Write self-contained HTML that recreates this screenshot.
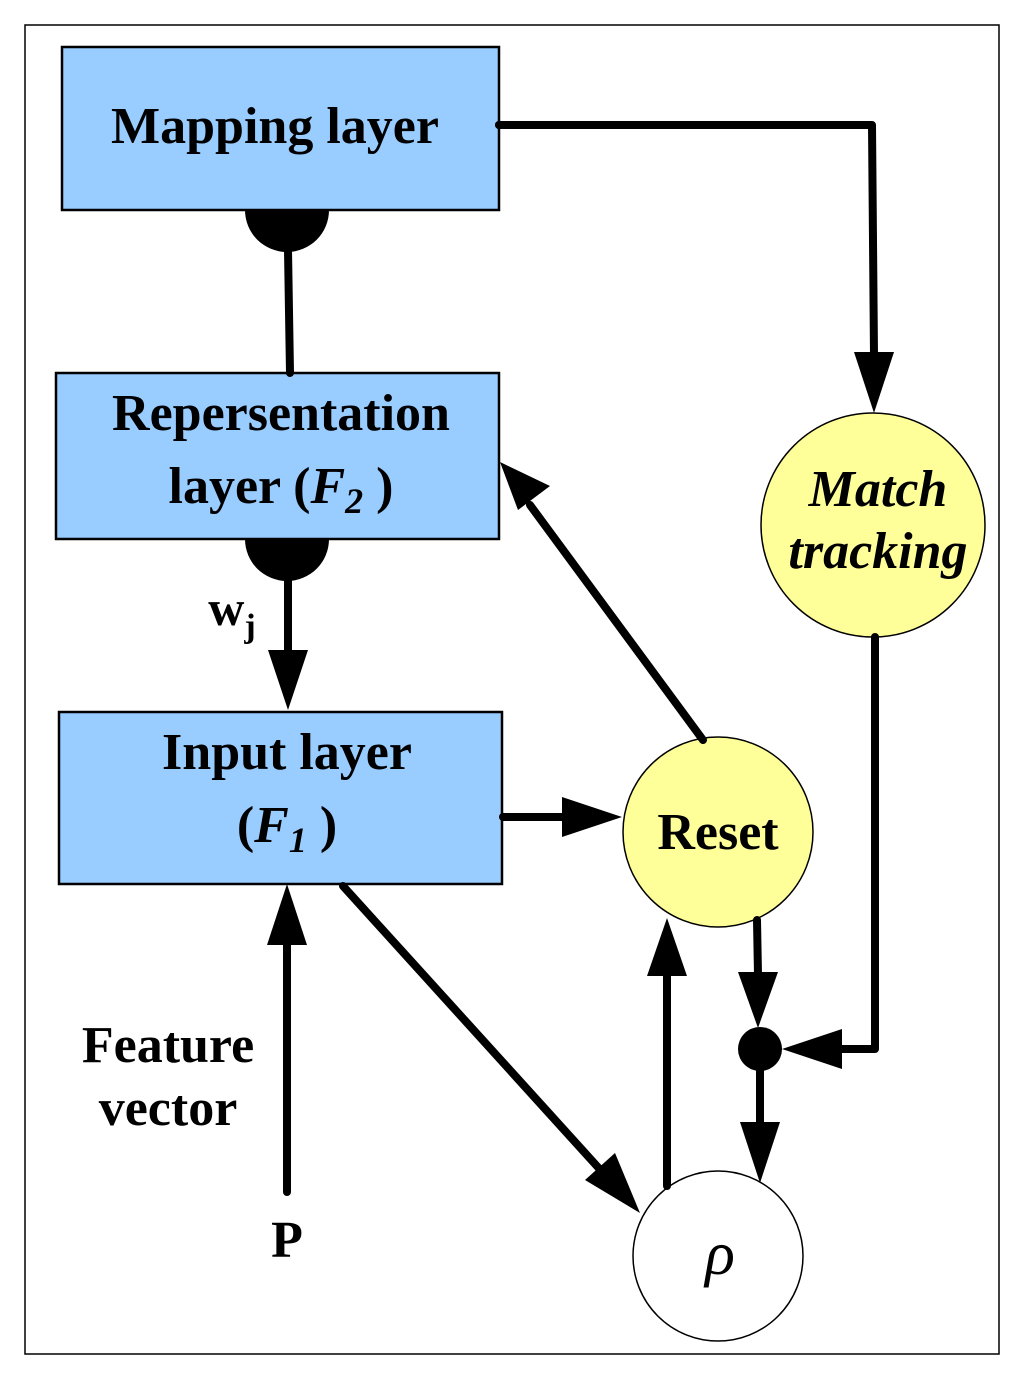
<!DOCTYPE html>
<html><head><style>body{margin:0;background:#fff}svg{display:block}</style></head><body>
<svg width="1024" height="1379" viewBox="0 0 1024 1379" xmlns="http://www.w3.org/2000/svg" font-family="Liberation Serif, serif" font-weight="bold">
<rect x="25" y="25" width="974" height="1329" fill="#fff" stroke="#000" stroke-width="1.5"/>
<path d="M245 210 A42 42 0 0 0 329 210 Z" fill="#000"/>
<path d="M245 539 A42 42 0 0 0 329 539 Z" fill="#000"/>
<rect x="62" y="47" width="437" height="163" fill="#99ccff" stroke="#000" stroke-width="2.5"/>
<rect x="56" y="373" width="443" height="166" fill="#99ccff" stroke="#000" stroke-width="2.5"/>
<rect x="59" y="712" width="443" height="172" fill="#99ccff" stroke="#000" stroke-width="2.5"/>
<text x="275" y="143" font-size="52" text-anchor="middle">Mapping layer</text>
<text x="281" y="430" font-size="52" text-anchor="middle">Repersentation</text>
<text x="281" y="503" font-size="52" text-anchor="middle">layer (<tspan font-style="italic">F</tspan><tspan font-style="italic" font-size="36" dy="10">2</tspan><tspan dy="-10"> )</tspan></text>
<text x="287" y="769" font-size="52" text-anchor="middle">Input layer</text>
<text x="287" y="842" font-size="52" text-anchor="middle">(<tspan font-style="italic">F</tspan><tspan font-style="italic" font-size="36" dy="10">1</tspan><tspan dy="-10"> )</tspan></text>
<circle cx="873" cy="525" r="112" fill="#ffff99" stroke="#000" stroke-width="1.5"/>
<text x="878" y="506" font-size="52" font-style="italic" text-anchor="middle">Match</text>
<text x="878" y="568" font-size="52" font-style="italic" text-anchor="middle">tracking</text>
<circle cx="718" cy="832" r="95" fill="#ffff99" stroke="#000" stroke-width="1.5"/>
<text x="718" y="849" font-size="52" text-anchor="middle">Reset</text>
<circle cx="718" cy="1256" r="85" fill="#fff" stroke="#000" stroke-width="1.5"/>
<text x="720" y="1274" font-size="62" font-weight="normal" font-style="italic" text-anchor="middle">ρ</text>
<g stroke="#000" stroke-width="8" fill="none" stroke-linecap="round" stroke-linejoin="round">
<line x1="288" y1="250" x2="290" y2="373"/>
<line x1="288" y1="580" x2="288" y2="655"/>
<polyline points="499,125 872,125 874,355"/>
<line x1="503" y1="817" x2="565" y2="817"/>
<line x1="703" y1="740" x2="530" y2="505"/>
<polyline points="875,637 875,1049 840,1049"/>
<line x1="757" y1="920" x2="758" y2="975"/>
<line x1="760" y1="1070" x2="760" y2="1125"/>
<line x1="343" y1="886" x2="605" y2="1175"/>
<line x1="667" y1="1186" x2="667" y2="972"/>
<line x1="287" y1="1192" x2="287" y2="940"/>
</g>
<circle cx="499" cy="125" r="4" fill="#000"/>
<circle cx="760" cy="1049" r="22" fill="#000"/>
<g fill="#000">
<polygon points="268,650 308,650 288,710"/>
<polygon points="854,352 894,352 874,413"/>
<polygon points="562,797 562,837 622,817"/>
<polygon points="500,462 550,486 518,510"/>
<polygon points="842,1029 842,1069 782,1049"/>
<polygon points="738,972 778,972 758,1028"/>
<polygon points="740,1122 780,1122 760,1183"/>
<polygon points="640,1213 585,1180 615,1153"/>
<polygon points="647,976 687,976 667,918"/>
<polygon points="267,945 307,945 287,884"/>
</g>
<text x="232" y="625" font-size="50" text-anchor="middle">w<tspan font-size="34" dy="12">j</tspan></text>
<text x="168" y="1062" font-size="52" text-anchor="middle">Feature</text>
<text x="168" y="1125" font-size="52" text-anchor="middle">vector</text>
<text x="287" y="1257" font-size="52" text-anchor="middle">P</text>
</svg>
</body></html>
